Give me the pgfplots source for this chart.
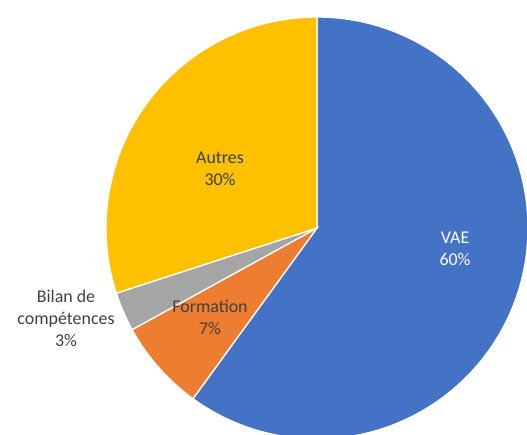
\documentclass[border=0pt]{standalone}
\usepackage{pgfplots}
\pgfplotsset{compat=1.18}
\usepackage{fontspec}
\setmainfont{Carlito}
\definecolor{cVAE}{HTML}{4472C4}
\definecolor{cForm}{HTML}{ED7D31}
\definecolor{cBilan}{HTML}{A5A5A5}
\definecolor{cAutres}{HTML}{FFC000}
\definecolor{lbl}{HTML}{404040}
\begin{document}
\begin{tikzpicture}
% percentages
\def\vVAE{60}\def\vForm{7}\def\vBilan{3}\def\vAutres{30}
\def\cx{317}\def\cy{207}\def\R{211}
\pgfmathsetmacro\aA{90}
\pgfmathsetmacro\aB{90-\vVAE*3.6}
\pgfmathsetmacro\aC{\aB-\vForm*3.6}
\pgfmathsetmacro\aD{\aC-\vBilan*3.6}
\pgfmathsetmacro\aE{\aD-\vAutres*3.6}
\begin{axis}[width=527bp,height=435bp,scale only axis,
  xmin=0,xmax=527,ymin=0,ymax=435,hide axis,clip=true]
\fill[cVAE,draw=white,line width=1.3pt] (axis cs:\cx,\cy) -- ++(\aA:\R bp) arc[start angle=\aA,end angle=\aB,radius=\R bp] -- cycle;
\fill[cForm,draw=white,line width=1.3pt] (axis cs:\cx,\cy) -- ++(\aB:\R bp) arc[start angle=\aB,end angle=\aC,radius=\R bp] -- cycle;
\fill[cBilan,draw=white,line width=1.3pt] (axis cs:\cx,\cy) -- ++(\aC:\R bp) arc[start angle=\aC,end angle=\aD,radius=\R bp] -- cycle;
\fill[cAutres,draw=white,line width=1.3pt] (axis cs:\cx,\cy) -- ++(\aD:\R bp) arc[start angle=\aD,end angle=\aE,radius=\R bp] -- cycle;
\node[white,align=center,font=\fontsize{18}{22}\selectfont] at (axis cs:455,186) {VAE\\\vVAE\%};
\node[lbl,align=center,font=\fontsize{18}{22}\selectfont] at (axis cs:220,266) {Autres\\\vAutres\%};
\node[lbl,align=center,font=\fontsize{18}{22}\selectfont] at (axis cs:210,118) {Formation\\\vForm\%};
\node[lbl,align=center,font=\fontsize{18}{22}\selectfont] at (axis cs:66,117) {Bilan de\\compétences\\\vBilan\%};
\end{axis}
\path (current axis.south west) rectangle (current axis.north east);
\end{tikzpicture}
\end{document}
